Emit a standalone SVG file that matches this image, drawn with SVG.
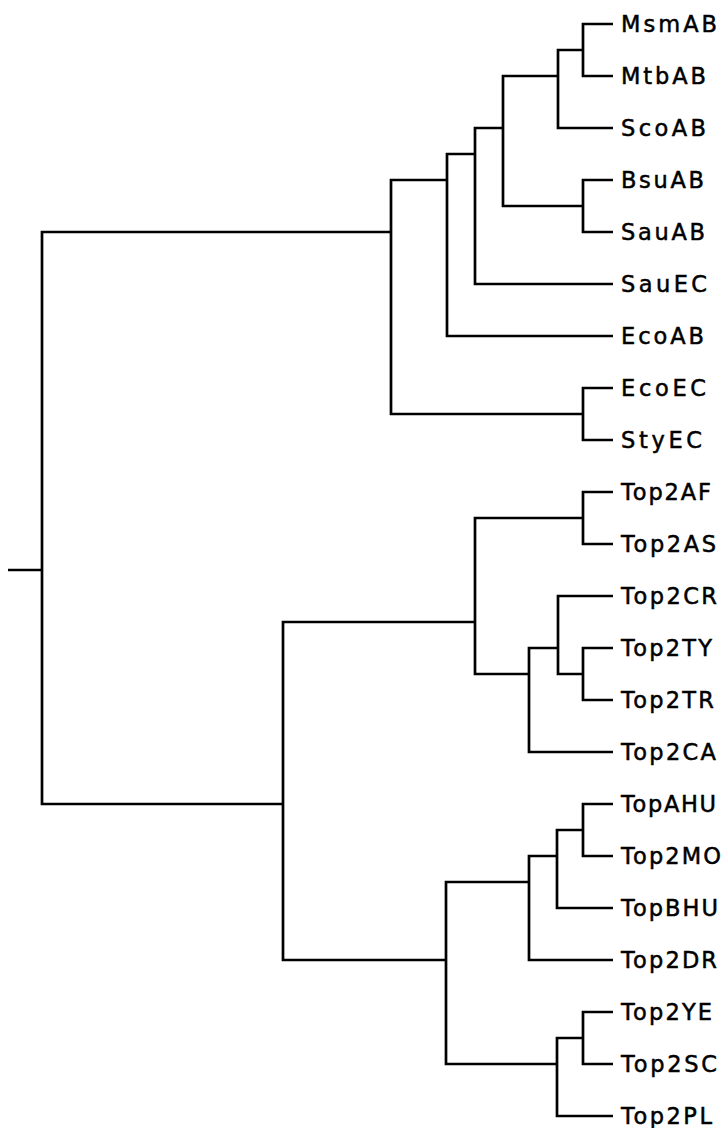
<svg xmlns="http://www.w3.org/2000/svg" width="722" height="1128" viewBox="0 0 722 1128">
<style>
.e{fill:none;stroke:#000;stroke-width:2.7;stroke-linejoin:miter;stroke-linecap:butt}
.t{font-family:"DejaVu Sans","Liberation Sans",sans-serif;font-size:22.5px;fill:#000;stroke:#000;stroke-width:0.5}
</style>
<rect width="722" height="1128" fill="#fff"/>
<g id="connectors">
<path class="e" d="M8 570H42"/>
<path class="e" d="M42 570V232H391"/>
<path class="e" d="M42 570V804H283"/>
<path class="e" d="M391 232V180H447"/>
<path class="e" d="M391 232V414H583"/>
<path class="e" d="M447 180V154H475"/>
<path class="e" d="M447 180V336H613"/>
<path class="e" d="M475 154V128H503"/>
<path class="e" d="M475 154V284H613"/>
<path class="e" d="M503 128V76H558"/>
<path class="e" d="M503 128V206H583"/>
<path class="e" d="M558 76V50H583"/>
<path class="e" d="M558 76V128H613"/>
<path class="e" d="M583 50V24H613"/>
<path class="e" d="M583 50V76H613"/>
<path class="e" d="M583 206V180H613"/>
<path class="e" d="M583 206V232H613"/>
<path class="e" d="M583 414V388H613"/>
<path class="e" d="M583 414V440H613"/>
<path class="e" d="M283 804V622H475"/>
<path class="e" d="M283 804V960H446"/>
<path class="e" d="M475 622V518H583"/>
<path class="e" d="M475 622V674H529"/>
<path class="e" d="M583 518V492H613"/>
<path class="e" d="M583 518V544H613"/>
<path class="e" d="M529 674V648H558"/>
<path class="e" d="M529 674V752H613"/>
<path class="e" d="M558 648V596H613"/>
<path class="e" d="M558 648V674H583"/>
<path class="e" d="M583 674V648H613"/>
<path class="e" d="M583 674V700H613"/>
<path class="e" d="M446 960V882H529"/>
<path class="e" d="M446 960V1064H557"/>
<path class="e" d="M529 882V856H557"/>
<path class="e" d="M529 882V960H613"/>
<path class="e" d="M557 856V830H583"/>
<path class="e" d="M557 856V908H613"/>
<path class="e" d="M583 830V804H613"/>
<path class="e" d="M583 830V856H613"/>
<path class="e" d="M557 1064V1038H583"/>
<path class="e" d="M557 1064V1116H613"/>
<path class="e" d="M583 1038V1012H613"/>
<path class="e" d="M583 1038V1064H613"/>
</g>
<g id="MsmAB"><text class="t" x="621" y="32" textLength="96">MsmAB</text></g>
<g id="MtbAB"><text class="t" x="621" y="84" textLength="85">MtbAB</text></g>
<g id="ScoAB"><text class="t" x="621" y="136" textLength="85">ScoAB</text></g>
<g id="BsuAB"><text class="t" x="621" y="188" textLength="83">BsuAB</text></g>
<g id="SauAB"><text class="t" x="621" y="240" textLength="84">SauAB</text></g>
<g id="SauEC"><text class="t" x="621" y="292" textLength="86">SauEC</text></g>
<g id="EcoAB"><text class="t" x="621" y="344" textLength="83">EcoAB</text></g>
<g id="EcoEC"><text class="t" x="621" y="396" textLength="85">EcoEC</text></g>
<g id="StyEC"><text class="t" x="621" y="448" textLength="81">StyEC</text></g>
<g id="Top2AF"><text class="t" x="621" y="500" textLength="90">Top2AF</text></g>
<g id="Top2AS"><text class="t" x="621" y="552" textLength="95">Top2AS</text></g>
<g id="Top2CR"><text class="t" x="621" y="604" textLength="96">Top2CR</text></g>
<g id="Top2TY"><text class="t" x="621" y="656" textLength="91">Top2TY</text></g>
<g id="Top2TR"><text class="t" x="621" y="708" textLength="93">Top2TR</text></g>
<g id="Top2CA"><text class="t" x="621" y="760" textLength="95">Top2CA</text></g>
<g id="TopAHU"><text class="t" x="621" y="812" textLength="95">TopAHU</text></g>
<g id="Top2MO"><text class="t" x="621" y="864" textLength="100">Top2MO</text></g>
<g id="TopBHU"><text class="t" x="621" y="916" textLength="97">TopBHU</text></g>
<g id="Top2DR"><text class="t" x="621" y="968" textLength="96">Top2DR</text></g>
<g id="Top2YE"><text class="t" x="621" y="1020" textLength="91">Top2YE</text></g>
<g id="Top2SC"><text class="t" x="621" y="1072" textLength="96">Top2SC</text></g>
<g id="Top2PL"><text class="t" x="621" y="1124" textLength="91">Top2PL</text></g>
</svg>
